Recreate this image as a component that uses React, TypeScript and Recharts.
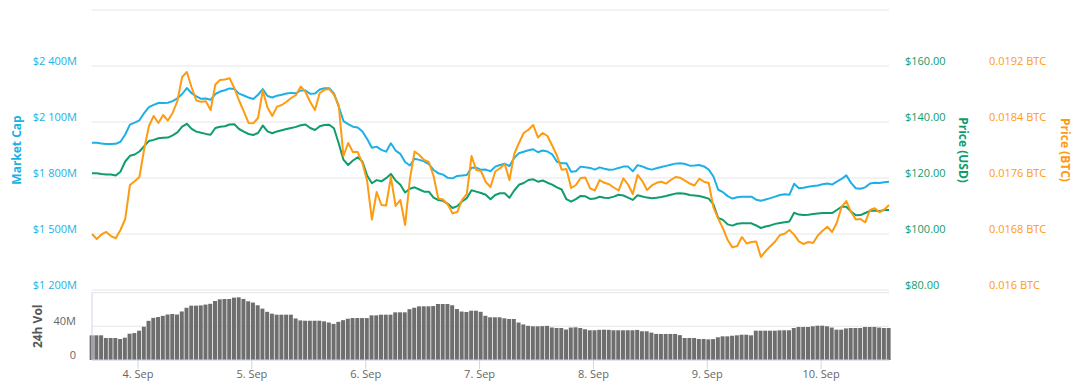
import React from 'react';
import { LineChart, Line, BarChart, Bar, XAxis, YAxis, CartesianGrid } from 'recharts';

// hourly samples, first one at 3 Sep ~14:20 (hours relative to 4 Sep 00:00)
const START_HOUR = -9.7;

const DAY_TICKS = [0, 24, 48, 72, 96, 120, 144];
const DAY_LABELS = ['4. Sep', '5. Sep', '6. Sep', '7. Sep', '8. Sep', '9. Sep', '10. Sep'];

const MC_TICKS = [1200, 1500, 1800, 2100, 2400, 2700];
const USD_TICKS = [80, 100, 120, 140, 160, 180];
const BTC_TICKS = [0.016, 0.0168, 0.0176, 0.0184, 0.0192, 0.02];
const VOL_TICKS = [0, 40];

// market cap, $M
const marketCap = [
  1989, 1989, 1985, 1982, 1982, 1983, 1994, 2033, 2086, 2097,
  2109, 2148, 2180, 2192, 2202, 2202, 2203, 2212, 2227, 2250,
  2282, 2254, 2237, 2224, 2226, 2219, 2250, 2263, 2270, 2280,
  2277, 2252, 2242, 2231, 2223, 2246, 2276, 2239, 2231, 2241,
  2246, 2253, 2256, 2254, 2269, 2269, 2251, 2253, 2274, 2281,
  2281, 2253, 2184, 2105, 2089, 2075, 2071, 2049, 2009, 1962,
  1968, 1951, 1941, 1986, 1947, 1929, 1886, 1867, 1903, 1897,
  1889, 1874, 1843, 1825, 1818, 1801, 1798, 1811, 1813, 1816,
  1855, 1856, 1844, 1845, 1836, 1861, 1870, 1877, 1864, 1907,
  1933, 1941, 1949, 1954, 1938, 1947, 1942, 1927, 1887, 1879,
  1879, 1834, 1836, 1861, 1857, 1854, 1845, 1857, 1850, 1844,
  1846, 1854, 1861, 1861, 1836, 1869, 1862, 1851, 1845, 1852,
  1859, 1865, 1871, 1877, 1879, 1875, 1866, 1867, 1870, 1862,
  1845, 1808, 1737, 1724, 1703, 1690, 1697, 1700, 1700, 1700,
  1684, 1678, 1685, 1692, 1700, 1709, 1713, 1710, 1769, 1745,
  1748, 1753, 1757, 1760, 1766, 1771, 1765, 1781, 1795, 1814,
  1774, 1745, 1742, 1750, 1771, 1775, 1773, 1777, 1780,
];

// price, USD
const priceUsd = [
  121.68, 121.68, 121.43, 121.25, 121.25, 120.89, 122.25, 125.89, 127.93, 128.39,
  129.46, 131.36, 133.25, 133.61, 134.21, 134.39, 134.43, 135.25, 136.32, 138.36,
  139.36, 137.54, 136.57, 136.14, 135.75, 135.43, 137.86, 138.32, 138.5, 139.11,
  139.18, 137.5, 136.57, 135.71, 135.36, 136.07, 138.75, 136.64, 136.0, 136.64,
  137.07, 137.5, 137.86, 138.25, 138.82, 139.11, 137.86, 137.14, 138.5, 138.96,
  139.04, 137.75, 132.39, 126.54, 124.64, 126.25, 127.39, 125.86, 120.89, 118.11,
  119.25, 118.82, 119.93, 121.46, 119.11, 117.61, 114.82, 116.14, 116.68, 115.89,
  115.11, 115.11, 112.96, 112.14, 111.86, 110.79, 109.29, 109.96, 111.61, 112.79,
  115.61, 115.14, 114.64, 114.0, 112.43, 113.93, 114.54, 114.54, 112.93, 115.54,
  117.57, 118.21, 119.29, 119.54, 118.68, 119.11, 118.32, 117.64, 116.64, 115.89,
  112.43, 111.54, 112.46, 113.61, 113.46, 112.54, 112.64, 113.32, 112.93, 112.89,
  113.36, 114.0, 113.75, 113.0, 112.18, 113.86, 113.39, 113.0, 112.79, 112.96,
  113.21, 113.57, 114.0, 114.43, 114.54, 114.39, 113.93, 113.75, 113.57, 113.14,
  112.64, 110.54, 105.71, 105.04, 103.43, 103.0, 103.64, 103.82, 103.82, 103.82,
  103.04, 102.14, 102.68, 103.07, 103.61, 103.96, 104.18, 104.43, 107.57, 106.93,
  106.79, 106.89, 107.14, 107.36, 107.54, 107.54, 107.46, 108.57, 109.75, 109.75,
  108.0, 106.68, 106.75, 107.5, 108.29, 108.39, 108.11, 108.57, 108.57,
];

// price, BTC
const priceBtc = [
  0.0168, 0.016729, 0.016793, 0.016829, 0.016771, 0.016739, 0.016857, 0.017014, 0.0175, 0.017554,
  0.017614, 0.018014, 0.018343, 0.018486, 0.018386, 0.0185, 0.018421, 0.018529, 0.0187, 0.019043,
  0.019114, 0.018893, 0.018707, 0.01869, 0.018696, 0.018571, 0.018936, 0.019, 0.019007, 0.019026,
  0.018886, 0.018707, 0.018551, 0.018386, 0.018381, 0.018457, 0.01885, 0.018607, 0.018486, 0.01862,
  0.018643, 0.018689, 0.018743, 0.018786, 0.018907, 0.018829, 0.018686, 0.018571, 0.018814, 0.01886,
  0.018871, 0.018791, 0.018643, 0.017914, 0.0181, 0.017971, 0.017971, 0.017814, 0.017557, 0.017007,
  0.0174, 0.017214, 0.017207, 0.017614, 0.0172, 0.017286, 0.016929, 0.017581, 0.017979, 0.017929,
  0.017857, 0.017829, 0.017629, 0.017307, 0.017293, 0.017221, 0.017096, 0.017114, 0.017286, 0.017371,
  0.017914, 0.017714, 0.0177, 0.017543, 0.017471, 0.017693, 0.017739, 0.0178, 0.017571, 0.017943,
  0.0181, 0.018243, 0.01829, 0.018357, 0.018179, 0.018243, 0.0182, 0.018064, 0.017921, 0.017719,
  0.017729, 0.017457, 0.0175, 0.0176, 0.017606, 0.017451, 0.017421, 0.017571, 0.017531, 0.017511,
  0.017464, 0.017421, 0.017596, 0.017507, 0.017371, 0.017643, 0.017557, 0.017429, 0.017493, 0.017531,
  0.017547, 0.01752, 0.017571, 0.017614, 0.017603, 0.017563, 0.017521, 0.017493, 0.01759, 0.017547,
  0.017529, 0.017179, 0.017021, 0.016881, 0.016714, 0.016609, 0.016629, 0.016757, 0.016664, 0.016686,
  0.016693, 0.016471, 0.016557, 0.016624, 0.016693, 0.016786, 0.016804, 0.016857, 0.016791, 0.016694,
  0.016657, 0.016686, 0.016671, 0.016779, 0.016846, 0.016904, 0.016829, 0.01696, 0.017186, 0.017271,
  0.017114, 0.017006, 0.017014, 0.016967, 0.017143, 0.017167, 0.01711, 0.017151, 0.017214,
];

// 24h volume, $M
const volume = [
  29.3, 29.3, 29.3, 26.1, 26.1, 26.1, 24.9, 26.5, 31.2, 32,
  34.8, 39.5, 46.5, 50, 51, 52.4, 54, 54.6, 54, 57.6,
  62, 64.5, 64.5, 64.8, 65.8, 66.7, 70, 72, 72.4, 72.4,
  74, 74.4, 72.5, 69.7, 68.2, 65.1, 61, 57.2, 55, 53.8,
  53.8, 53.8, 53.8, 49.3, 47, 46.6, 46.6, 46.6, 46.6, 45.9,
  44.5, 42.9, 45.3, 47.3, 49, 49.8, 49.8, 49.8, 49.8, 53,
  53, 53.8, 53.8, 53.8, 56.6, 56.6, 56.6, 60.3, 62, 63.7,
  63.7, 63.7, 64, 66.5, 66.5, 66.5, 65, 60.5, 57.5, 57,
  58.5, 58.5, 57.2, 52.5, 50.7, 50.7, 50.7, 49.5, 48.7, 48.7,
  44.5, 42.2, 40.5, 40, 40, 40.2, 40.5, 38.6, 38, 38,
  36.2, 38.5, 38.8, 38, 36.5, 35.3, 35.3, 35.8, 36, 35.8,
  35.3, 35.3, 35.3, 35.3, 35.3, 35.7, 34.1, 34.1, 32.5, 31,
  30.9, 30.9, 30.9, 30.9, 29.5, 26.1, 26.1, 26.1, 24.9, 24.9,
  24.5, 24.8, 27, 28.1, 28.1, 28.8, 29.3, 30, 30, 29.3,
  34.8, 34.8, 34.8, 34.8, 34.8, 35.2, 35.3, 35.3, 38, 39.2,
  39.2, 39.2, 40, 40.7, 40.7, 40, 38.5, 36, 36, 37.5,
  38, 38, 38, 39.2, 39.2, 39.2, 38.5, 38, 38,
];

const BLUE = '#1cb0e6';
const GREEN = '#0f9d6b';
const ORANGE = '#fd9b12';
const GRID = '#e6e6e6';
const AXIS = '#ccd6eb';
const GREY = '#666666';

const rows = marketCap.map((mc, i) => ({
  t: START_HOUR + i,
  mc,
  usd: priceUsd[i],
  btc: priceBtc[i],
  vol: volume[i],
}));
const X_DOMAIN: [number, number] = [START_HOUR, START_HOUR + marketCap.length - 1];

const fmtMc = (v: number) => `$${Math.floor(v / 1000)} ${String(v % 1000).padStart(3, '0')}M`;
const fmtUsd = (v: number) => `$${v.toFixed(2)}`;
const fmtBtc = (v: number) => `${Number(v.toFixed(4))} BTC`;
const fmtVol = (v: number) => (v === 0 ? '0' : `${v}M`);

// labels sit a little above their grid line, the top one is not shown
const makeTick =
  (fmt: (v: number) => string, color: string, anchor: 'start' | 'end', skip?: number) =>
  (props: any) => {
    const { x, y, payload } = props;
    if (skip !== undefined && Math.abs(payload.value - skip) < 1e-9) return <g />;
    return (
      <text x={x} y={y - 5} dy="0.355em" textAnchor={anchor} fill={color} fontSize={11}>
        {fmt(payload.value)}
      </text>
    );
  };

const dayTick = (props: any) => {
  const { x, y, payload } = props;
  const idx = DAY_TICKS.indexOf(payload.value);
  return (
    <text x={x} y={y} dy="0.71em" textAnchor="middle" fill={GREY} fontSize={11}>
      {DAY_LABELS[idx]}
    </text>
  );
};

const axisTitle = (text: string, dx: number, color: string, angle: number) => (props: any) => {
  const { x, y, height } = props.viewBox;
  const cx = x + dx;
  const cy = y + height / 2;
  return (
    <text
      x={cx}
      y={cy}
      transform={`rotate(${angle} ${cx} ${cy})`}
      textAnchor="middle"
      dominantBaseline="central"
      fill={color}
      fontSize={12}
      fontWeight="bold"
    >
      {text}
    </text>
  );
};

export default function App() {
  return (
    <div
      style={{
        position: 'absolute',
        left: 0,
        top: 0,
        width: 1089,
        height: 387,
        background: '#fff',
        fontFamily: '"Open Sans", sans-serif',
      }}
    >
      <div style={{ position: 'absolute', left: 0, top: 0 }}>
        <LineChart width={1089} height={292} data={rows} margin={{ top: 10, right: 0, bottom: 2, left: 0 }}>
          <CartesianGrid yAxisId="mc" vertical={false} stroke={GRID} />
          <XAxis dataKey="t" type="number" domain={X_DOMAIN} hide />
          <YAxis
            yAxisId="mc"
            orientation="left"
            width={92}
            domain={[1200, 2700]}
            ticks={MC_TICKS}
            interval={0}
            axisLine={false}
            tickLine={false}
            tickSize={0}
            tickMargin={15}
            tick={makeTick(fmtMc, BLUE, 'end', 2700)}
            label={{ content: axisTitle('Market Cap', 16, BLUE, -90) }}
          />
          {/* right axes are stacked by id: r1 sits next to the plot, r2 outside it */}
          <YAxis
            yAxisId="r1"
            orientation="right"
            width={96}
            domain={[80, 180]}
            ticks={USD_TICKS}
            interval={0}
            axisLine={false}
            tickLine={false}
            tickSize={0}
            tickMargin={16}
            tick={makeTick(fmtUsd, GREEN, 'start', 180)}
            label={{ content: axisTitle('Price (USD)', 74, GREEN, 90) }}
          />
          <YAxis
            yAxisId="r2"
            orientation="right"
            width={104}
            domain={[0.016, 0.02]}
            ticks={BTC_TICKS}
            interval={0}
            axisLine={false}
            tickLine={false}
            tickSize={0}
            tickMargin={4}
            tick={makeTick(fmtBtc, ORANGE, 'start', 0.02)}
            label={{ content: axisTitle('Price (BTC)', 80, ORANGE, 90) }}
          />
          <Line
            yAxisId="mc"
            dataKey="mc"
            type="linear"
            stroke={BLUE}
            strokeWidth={2}
            strokeLinejoin="round"
            dot={false}
            isAnimationActive={false}
          />
          <Line
            yAxisId="r1"
            dataKey="usd"
            type="linear"
            stroke={GREEN}
            strokeWidth={2}
            strokeLinejoin="round"
            dot={false}
            isAnimationActive={false}
          />
          <Line
            yAxisId="r2"
            dataKey="btc"
            type="linear"
            stroke={ORANGE}
            strokeWidth={2}
            strokeLinejoin="round"
            dot={false}
            isAnimationActive={false}
          />
        </LineChart>
      </div>

      <div style={{ position: 'absolute', left: 0, top: 290 }}>
        <BarChart width={1089} height={97} data={rows} margin={{ top: 2.6, right: 200, bottom: 0, left: 0 }}>
          <CartesianGrid vertical={false} stroke={GRID} />
          <XAxis
            dataKey="t"
            type="number"
            domain={X_DOMAIN}
            ticks={DAY_TICKS}
            interval={0}
            height={27}
            axisLine={{ stroke: AXIS }}
            tickLine={{ stroke: AXIS }}
            tickSize={9}
            tickMargin={1}
            tick={dayTick}
          />
          <YAxis
            width={92}
            domain={[0, 80]}
            ticks={VOL_TICKS}
            interval={0}
            axisLine={{ stroke: AXIS }}
            tickLine={false}
            tickSize={0}
            tickMargin={16}
            tick={makeTick(fmtVol, GREY, 'end')}
            label={{ content: axisTitle('24h Vol', 38, '#555555', -90) }}
          />
          <Bar dataKey="vol" fill="#6e6e6e" barSize={4} isAnimationActive={false} />
        </BarChart>
      </div>
    </div>
  );
}
